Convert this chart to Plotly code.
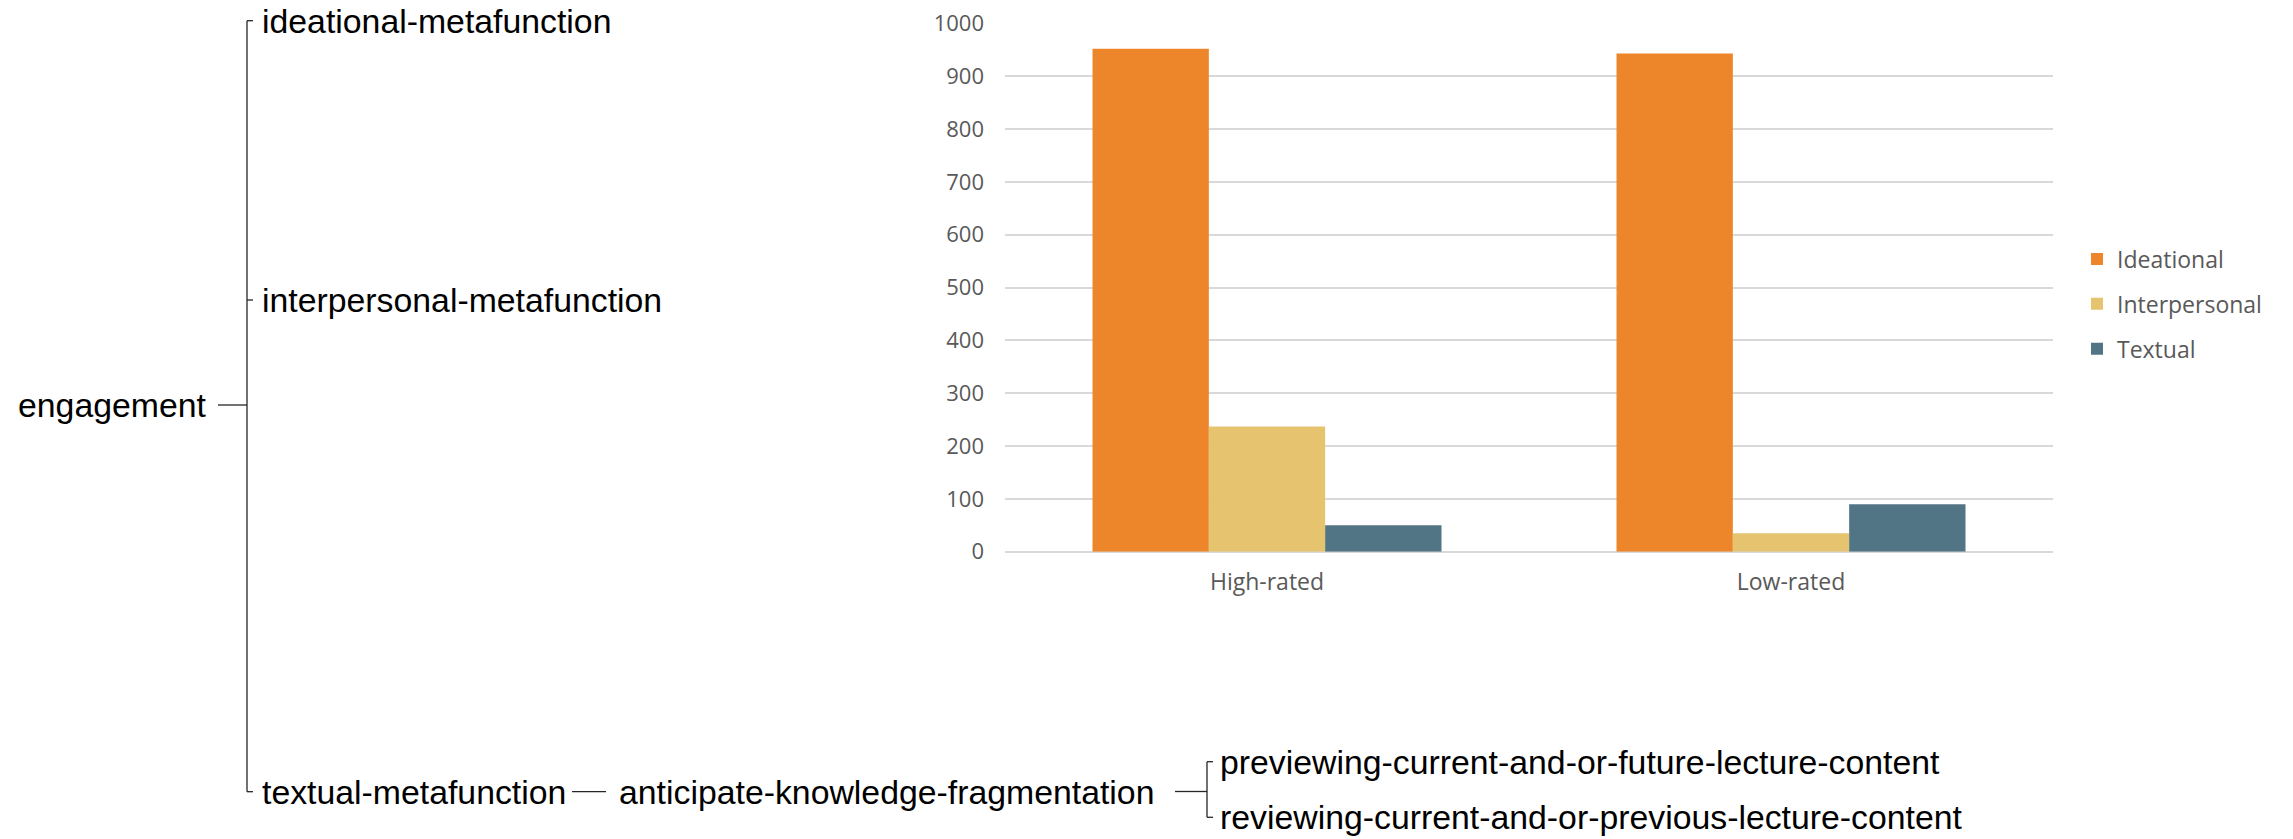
import plotly.graph_objects as go

W, H = 2293, 839

# ---- bar chart data ----
categories = ["High-rated", "Low-rated"]
series_names = ["Ideational", "Interpersonal", "Textual"]
ideational = [952, 943]
interpersonal = [237, 35]
textual = [50, 90]
series_values = [ideational, interpersonal, textual]
series_colors = ["#ED862A", "#E6C46F", "#527585"]
y_ticks = [0, 100, 200, 300, 400, 500, 600, 700, 800, 900, 1000]

# ---- system network labels ----
root_label = "engagement"
level1_labels = ["ideational-metafunction", "interpersonal-metafunction", "textual-metafunction"]
level2_label = "anticipate-knowledge-fragmentation"
level3_labels = ["previewing-current-and-or-future-lecture-content",
                 "reviewing-current-and-or-previous-lecture-content"]


def px(x):
    return x / W


def py(y):
    return 1 - y / H


fig = go.Figure()
for name, vals, col in zip(series_names, series_values, series_colors):
    fig.add_trace(go.Bar(
        name=name, x=categories, y=vals, marker=dict(color=col, line=dict(width=0)),
        legendgroup=name, hoverinfo="skip",
    ))

grey = "#595959"
fig.update_layout(
    width=W, height=H,
    margin=dict(l=0, r=0, t=0, b=0, autoexpand=False),
    paper_bgcolor="white", plot_bgcolor="white",
    barmode="group", bargap=0.334, bargroupgap=0,
    font=dict(family="Open Sans", color=grey),
    showlegend=True,
    legend=dict(
        x=px(2077), xanchor="left", y=py(304), yanchor="middle",
        font=dict(family="Open Sans", size=23, color=grey),
        tracegroupgap=12, bgcolor="rgba(0,0,0,0)",
    ),
    xaxis=dict(
        domain=[px(1005), px(2053)], automargin=False,
        showgrid=False, showline=False, ticks="",
        tickfont=dict(family="Open Sans", size=23, color=grey),
        ticklabelstandoff=14,
    ),
    yaxis=dict(
        domain=[py(551.7), py(23.3)], automargin=False,
        range=[0, 1000], tickvals=y_ticks,
        showgrid=True, gridcolor="#d9d9d9", gridwidth=1.6,
        zeroline=True, zerolinecolor="#d9d9d9", zerolinewidth=1.8,
        showline=False, ticks="",
        tickfont=dict(family="Open Sans", size=22, color=grey),
        ticklabelstandoff=20,
    ),
)

# ---- network lines ----
line_style = dict(color="#262626", width=1.3)
segments = [
    (247, 20.7, 247, 791.7),      # main bracket vertical
    (247, 20.7, 253, 20.7),       # tick ideational
    (247, 300, 253, 300),         # tick interpersonal
    (247, 791.7, 253, 791.7),     # tick textual
    (218, 405, 247, 405),         # engagement -> bracket
    (572, 791.7, 606, 791.7),     # textual -> anticipate
    (1175, 791.5, 1207, 791.5),   # anticipate -> bracket
    (1207, 761.7, 1207, 817.3),   # small bracket vertical
    (1207, 761.7, 1213, 761.7),
    (1207, 817.3, 1213, 817.3),
]
for x0, y0, x1, y1 in segments:
    fig.add_shape(type="line", xref="paper", yref="paper",
                  x0=px(x0), y0=py(y0), x1=px(x1), y1=py(y1), line=line_style)

net_font = dict(family="Liberation Sans, Arial", size=33.8, color="black")
label_pos = [
    (root_label, 17, 405),
    (level1_labels[0], 261, 20.7),
    (level1_labels[1], 261, 300),
    (level1_labels[2], 261, 791.7),
    (level2_label, 618, 791.7),
    (level3_labels[0], 1219, 761.7),
    (level3_labels[1], 1219, 817.3),
]
for text, x, y in label_pos:
    fig.add_annotation(text=text, xref="paper", yref="paper", x=px(x), y=py(y),
                       xanchor="left", yanchor="middle", showarrow=False,
                       font=net_font, borderpad=0)

fig.write_html("out.html")
